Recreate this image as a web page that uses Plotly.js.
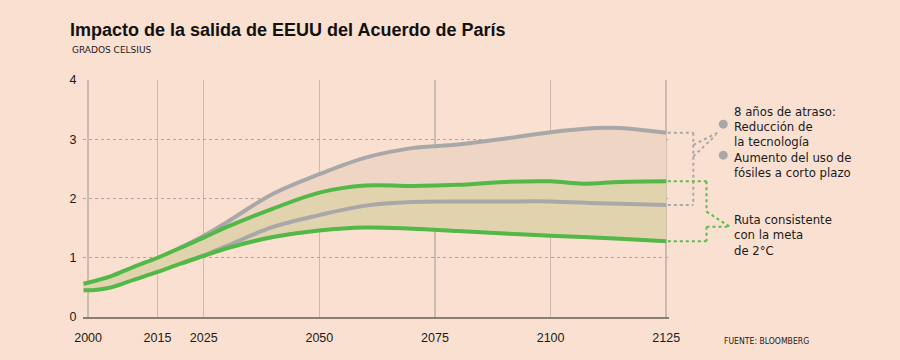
<!DOCTYPE html>
<html>
<head>
<meta charset="utf-8">
<script src="https://cdn.plot.ly/plotly-3.0.1.min.js"></script>
<style>html,body{margin:0;padding:0;background:#fae0d0;}#chart{width:900px;height:360px;}</style>
</head>
<body>
<div id="chart"></div>
<script>
// ---- data ----
const yearsGreen = [1999, 2002, 2005, 2010, 2015, 2020, 2025, 2030, 2040, 2050, 2060, 2070, 2080, 2090, 2100, 2107, 2115, 2125];
const greenUpper = [0.56, 0.62, 0.69, 0.85, 1.00, 1.17, 1.34, 1.52, 1.83, 2.10, 2.22, 2.21, 2.23, 2.28, 2.29, 2.25, 2.28, 2.29];
const greenLower = [0.45, 0.46, 0.50, 0.63, 0.76, 0.90, 1.03, 1.16, 1.35, 1.46, 1.51, 1.49, 1.45, 1.41, 1.37, 1.35, 1.32, 1.28];

const yearsGray = [2020, 2025, 2030, 2040, 2050, 2060, 2070, 2080, 2090, 2100, 2110, 2115, 2125];
const grayUpper = [1.17, 1.37, 1.60, 2.08, 2.41, 2.69, 2.85, 2.91, 3.01, 3.12, 3.19, 3.19, 3.11];
const grayLower = [0.90, 1.04, 1.20, 1.52, 1.72, 1.88, 1.94, 1.95, 1.95, 1.95, 1.92, 1.91, 1.89];

const xTicks = [2000, 2015, 2025, 2050, 2075, 2100, 2125];
const yTicks = [0, 1, 2, 3, 4];

const titleText = 'Impacto de la salida de EEUU del Acuerdo de París';
const subtitleText = 'GRADOS CELSIUS';
const sourceText = 'FUENTE: BLOOMBERG';
const grayLabel = ['8 años de atraso:', 'Reducción de', 'la tecnología', 'Aumento del uso de', 'fósiles a corto plazo'];
const greenLabel = ['Ruta consistente', 'con la meta', 'de 2°C'];

// ---- styles ----
const BG = '#fae0d0';
const PINK = '#efd5c4';
const TAN = '#e1d3ae';
const GREEN = '#52b847';
const GRAY = '#a9a8a9';
const sp = {shape: 'spline', smoothing: 1};

const traces = [
  {x: yearsGray, y: grayLower, mode: 'lines', line: {width: 0, ...sp}, showlegend: false, hoverinfo: 'skip'},
  {x: yearsGray, y: grayUpper, mode: 'lines', line: {width: 0, ...sp}, fill: 'tonexty', fillcolor: PINK, showlegend: false, hoverinfo: 'skip'},
  {x: yearsGreen, y: greenLower, mode: 'lines', line: {width: 0, ...sp}, showlegend: false, hoverinfo: 'skip'},
  {x: yearsGreen, y: greenUpper, mode: 'lines', line: {width: 0, ...sp}, fill: 'tonexty', fillcolor: TAN, showlegend: false, hoverinfo: 'skip'},
  {x: yearsGray, y: grayUpper, mode: 'lines', line: {color: GRAY, width: 4, ...sp}, showlegend: false},
  {x: yearsGray, y: grayLower, mode: 'lines', line: {color: GRAY, width: 4, ...sp}, showlegend: false},
  {x: yearsGreen, y: greenUpper, mode: 'lines', line: {color: GREEN, width: 4, ...sp}, showlegend: false},
  {x: yearsGreen, y: greenLower, mode: 'lines', line: {color: GREEN, width: 4, ...sp}, showlegend: false}
];

const gU = grayUpper[grayUpper.length - 1], gL = grayLower[grayLower.length - 1];
const eU = greenUpper[greenUpper.length - 1], eL = greenLower[greenLower.length - 1];
const gline = {color: GRAY, width: 2, dash: 'dot'};
const eline = {color: '#5dbb4c', width: 2, dash: 'dot'};
function seg(x0, y0, x1, y1, line) {
  return {type: 'line', xref: 'paper', yref: 'y', x0, y0, x1, y1, line};
}
const shapes = [
  seg(0.998, gU, 1.0415, gU, gline),
  seg(1.0415, gU, 1.0415, gL, gline),
  seg(0.998, gL, 1.0415, gL, gline),
  seg(1.0415, 2.905, 1.087, 3.13, gline),
  seg(1.0415, 2.71, 1.080, 3.07, gline),
  seg(0.998, eU, 1.064, eU, eline),
  seg(1.064, eU, 1.064, 1.777, eline),
  seg(1.064, 1.777, 1.104, 1.523, eline),
  seg(1.064, 1.523, 1.104, 1.523, eline),
  seg(1.064, 1.523, 1.064, eL, eline),
  seg(0.998, eL, 1.064, eL, eline),
  {type: 'circle', xref: 'paper', yref: 'y', xsizemode: 'pixel', ysizemode: 'pixel',
   xanchor: 1.0926, yanchor: 3.255, x0: -4.5, x1: 4.5, y0: -4.5, y1: 4.5, fillcolor: GRAY, line: {width: 0}},
  {type: 'circle', xref: 'paper', yref: 'y', xsizemode: 'pixel', ysizemode: 'pixel',
   xanchor: 1.0926, yanchor: 2.731, x0: -4.5, x1: 4.5, y0: -4.5, y1: 4.5, fillcolor: GRAY, line: {width: 0}}
];

const labelFont = {family: '"Liberation Sans Narrow", "DejaVu Sans Condensed", sans-serif', size: 13, color: '#1a1a1a'};
const grayY = [3.464, 3.209, 2.955, 2.700, 2.445];
const greenY = [1.648, 1.389, 1.130];
const annotations = [];
grayLabel.forEach((t, i) => annotations.push({text: t, xref: 'paper', yref: 'y', x: 1.1075, y: grayY[i], xanchor: 'left', yanchor: 'middle', showarrow: false, font: labelFont}));
greenLabel.forEach((t, i) => annotations.push({text: t, xref: 'paper', yref: 'y', x: 1.1075, y: greenY[i], xanchor: 'left', yanchor: 'middle', showarrow: false, font: labelFont}));
annotations.push({text: subtitleText, xref: 'paper', yref: 'paper', x: -0.0222, y: 1.128, xanchor: 'left', yanchor: 'middle', showarrow: false,
  font: {family: '"DejaVu Sans", sans-serif', size: 9, color: '#1a1a1a'}});
annotations.push({text: sourceText, xref: 'paper', yref: 'paper', x: 1.0904, y: -0.103, xanchor: 'left', yanchor: 'middle', showarrow: false,
  font: {family: '"DejaVu Sans Condensed", "DejaVu Sans", sans-serif', size: 8.6, color: '#1a1a1a'}});

const tickFont = {family: '"Liberation Sans", Arial, sans-serif', size: 12.5, color: '#1a1a1a'};
const layout = {
  width: 900, height: 360,
  paper_bgcolor: BG, plot_bgcolor: BG,
  margin: {l: 83, r: 231, t: 80, b: 43},
  title: {text: titleText, xref: 'container', yref: 'container', x: 0.0778, y: 0.917, xanchor: 'left', yanchor: 'middle',
    font: {family: '"Liberation Sans", Arial, sans-serif', size: 18, weight: 'bold', color: '#111'}},
  xaxis: {range: [1998.9, 2125.6], tickvals: xTicks, ticktext: xTicks.map(String), showgrid: true, gridcolor: '#ccbcae', gridwidth: 1.5,
    zeroline: false, showline: true, linecolor: '#8a7d73', linewidth: 2, ticks: 'outside', ticklen: 8, tickcolor: 'rgba(0,0,0,0)', tickfont: tickFont, fixedrange: true},
  yaxis: {range: [0, 4], tickvals: yTicks, ticktext: yTicks.map(String), showgrid: true, gridcolor: '#b0a49b', gridwidth: 1, griddash: '3px,3px',
    zeroline: false, showline: false, ticks: 'outside', ticklen: 3, tickcolor: 'rgba(0,0,0,0)', tickfont: tickFont, fixedrange: true},
  shapes, annotations,
  showlegend: false
};
Plotly.newPlot('chart', traces, layout, {staticPlot: true, displayModeBar: false});
</script>
</body>
</html>
